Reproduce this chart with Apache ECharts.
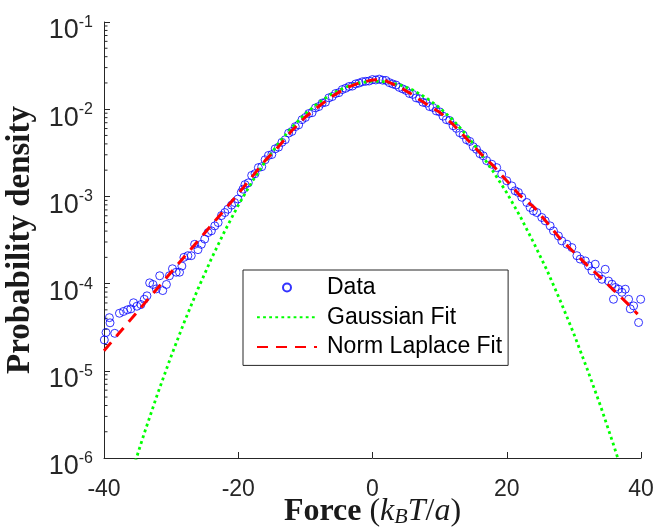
<!DOCTYPE html>
<html><head><meta charset="utf-8">
<script src="https://cdn.jsdelivr.net/npm/echarts@6/dist/echarts.min.js"></script>
<style>html,body{margin:0;padding:0;background:#fff}#c{width:655px;height:529px}</style>
</head><body><div id="c"></div>
<script>
// ---- data ----
const xTicks = [-40, -20, 0, 20, 40];
const yDecades = [-6, -5, -4, -3, -2, -1];
const minorMultipliers = [2, 3, 4, 5, 6, 7, 8, 9];

const dataX = [
 -39.95,-39.7,-39.2,-39.1,-38.4,-37.7,-37.1,-36.5,-36.0,-35.6,-35.1,-34.5,-34.0,-33.6,-33.2,-32.7,-32.2,-31.7,-31.25,-30.7,
 -30.25,-29.8,-29.25,-28.75,-28.4,-28.1,-27.5,-27.0,-26.5,-26.0,-25.5,-25.0,-24.5,-24.0,-23.5,-23.0,-22.5,-22.0,-21.55,-21.0,
 -20.55,-20.05,-19.55,-19.3,
 -19,-18.5,-18,-17.5,-17,-16.5,-16,-15.5,-15,-14.5,-14,-13.5,-13,-12.5,-12,-11.5,-11,-10.5,-10,-9.5,-9,-8.5,-8,-7.5,-7,-6.5,-6,-5.5,-5,-4.5,-4,-3.5,-3,-2.5,-2,-1.5,-1,-0.5,
 0,0.5,1,1.5,2,2.5,3,3.5,4,4.5,5,5.5,6,6.5,7,7.5,8,8.5,9,9.5,10,10.5,11,11.5,12,12.5,13,13.5,14,14.5,15,15.5,16,16.5,17,
 17.76,18.5,19.25,20.0,20.75,21.24,21.73,22.24,22.99,23.48,23.97,24.48,25.22,25.72,26.46,26.96,27.7,28.2,28.96,29.7,
 30.45,30.94,31.7,32.18,32.69,33.18,33.67,34.18,34.67,35.16,35.67,35.9,36.16,36.66,37.16,37.66,38.15,38.4,38.9,39.64,39.95
];
const dataY = [
 2.26e-5,2.75e-5,4.07e-5,3.55e-5,2.69e-5,4.57e-5,4.79e-5,5.01e-5,5.13e-5,6.03e-5,5.50e-5,5.75e-5,6.61e-5,7.24e-5,1.02e-4,9.77e-5,8.71e-5,1.23e-4,8.32e-5,9.77e-5,
 1.23e-4,1.48e-4,1.35e-4,1.35e-4,1.59e-4,2.00e-4,2.09e-4,2.09e-4,2.82e-4,2.45e-4,2.82e-4,3.24e-4,3.85e-4,4.03e-4,4.59e-4,5.01e-4,6.03e-4,6.53e-4,7.13e-4,7.94e-4,
 8.51e-4,9.33e-4,1.11e-3,1.21e-3,
 1.365e-3,1.43e-3,1.74e-3,1.82e-3,2.14e-3,2.19e-3,2.63e-3,2.95e-3,3.02e-3,3.51e-3,3.67e-3,4.17e-3,4.47e-3,5.31e-3,5.56e-3,6.31e-3,6.61e-3,7.59e-3,8.04e-3,8.91e-3,9.12e-3,1.035e-2,1.072e-2,1.175e-2,1.202e-2,1.349e-2,1.396e-2,1.514e-2,1.549e-2,1.679e-2,1.738e-2,1.82e-2,1.841e-2,1.95e-2,1.995e-2,2.065e-2,2.089e-2,2.104e-2,
 2.188e-2,2.163e-2,2.213e-2,2.153e-2,2.138e-2,2.018e-2,1.95e-2,1.892e-2,1.778e-2,1.71e-2,1.641e-2,1.514e-2,1.479e-2,1.349e-2,1.318e-2,1.202e-2,1.175e-2,1.072e-2,1.047e-2,9.55e-3,9.33e-3,8.32e-3,7.59e-3,7.41e-3,6.46e-3,6.03e-3,5.37e-3,5.07e-3,4.47e-3,4.27e-3,3.72e-3,3.47e-3,3.09e-3,2.92e-3,2.57e-3,
 2.34e-3,2.14e-3,1.80e-3,1.51e-3,1.32e-3,1.16e-3,1.11e-3,9.77e-4,8.51e-4,7.46e-4,6.82e-4,6.53e-4,5.73e-4,5.25e-4,4.59e-4,4.02e-4,3.52e-4,3.09e-4,2.83e-4,2.59e-4,
 2.09e-4,1.91e-4,1.82e-4,1.60e-4,1.40e-4,1.67e-4,1.23e-4,1.12e-4,1.46e-4,1.07e-4,9.84e-5,6.61e-5,9.02e-5,8.63e-5,7.94e-5,8.63e-5,6.61e-5,5.13e-5,5.55e-5,3.58e-5,6.61e-5
];

const gaussX = [-40,-38,-36,-34,-32,-30,-28,-26,-24,-22,-20,-18,-16,-14,-12,-10,-8,-6,-4,-2,0,2,4,6,8,10,12,14,16,18,20,22,24,26,28,30,32,34,36,38,40];
const gaussY = [5.7e-8,1.96e-7,6.3e-7,1.92e-6,5.5e-6,1.47e-5,3.69e-5,8.7e-5,1.93e-4,4.02e-4,7.9e-4,1.45e-3,2.5e-3,4.06e-3,6.2e-3,8.87e-3,1.195e-2,1.51e-2,1.79e-2,2.0e-2,2.1e-2,2.06e-2,1.91e-2,1.66e-2,1.35e-2,1.04e-2,7.5e-3,5.06e-3,3.21e-3,1.92e-3,1.1e-3,5.9e-4,2.95e-4,1.42e-4,6.3e-5,2.65e-5,1.04e-5,3.9e-6,1.35e-6,4.4e-7,1.3e-7];

const laplaceX = [-40,-38,-36,-34,-32,-30,-28,-26,-24,-22,-20,-18,-16,-14,-12,-10,-8,-6,-4,-2,0,1,2,4,6,8,10,12,14,16,18,20,22,24,26,28,30,32,34,36,38,39.5];
const laplaceY = [1.70e-5,2.57e-5,3.89e-5,5.89e-5,8.91e-5,1.35e-4,2.04e-4,3.09e-4,4.68e-4,7.08e-4,1.07e-3,1.66e-3,2.57e-3,3.72e-3,5.69e-3,8.13e-3,1.08e-2,1.41e-2,1.74e-2,2.00e-2,2.16e-2,2.19e-2,2.11e-2,1.80e-2,1.46e-2,1.15e-2,9.23e-3,6.68e-3,4.62e-3,3.16e-3,2.24e-3,1.51e-3,1.02e-3,7.59e-4,5.01e-4,3.24e-4,2.29e-4,1.62e-4,1.17e-4,8.32e-5,5.89e-5,4.47e-5];

const seriesNames = ['Data', 'Gaussian Fit', 'Norm Laplace Fit'];

// ---- build ----
const zip = (a, b) => a.map((v, i) => [v, b[i]]);
const minorTicks = [];
yDecades.slice(0, -1).forEach(d => minorMultipliers.forEach(m => minorTicks.push([xTicks[0], m * Math.pow(10, d)])));

const AX = '#262626';
const chart = echarts.init(document.getElementById('c'), null, {renderer: 'canvas'});
chart.setOption({
  animation: false,
  backgroundColor: '#fff',
  grid: {left: 104, right: 14, top: 22, bottom: 71, containLabel: false, outerBoundsMode: 'none'},
  xAxis: {
    type: 'value', min: xTicks[0], max: xTicks[xTicks.length - 1], interval: 20,
    axisLine: {onZero: false, lineStyle: {color: AX, width: 1}},
    axisTick: {inside: true, length: 6, lineStyle: {color: AX}},
    splitLine: {show: false},
    axisLabel: {color: AX, fontSize: 23, fontFamily: 'Liberation Sans', margin: 20},
    name: '{b|Force }{m|(}{i|k}{sub|B}{i|T}{m|/}{i|a}{m|)}',
    nameLocation: 'middle', nameGap: 38, nameMoveOverlap: false,
    nameTextStyle: {
      rich: {
        b: {fontFamily: 'Liberation Serif', fontWeight: 'bold', fontSize: 32, color: '#1a1a1a'},
        m: {fontFamily: 'Liberation Serif', fontSize: 32, color: '#1a1a1a'},
        i: {fontFamily: 'Liberation Serif', fontStyle: 'italic', fontSize: 32, color: '#1a1a1a'},
        sub: {fontFamily: 'Liberation Serif', fontStyle: 'italic', fontSize: 22, color: '#1a1a1a', verticalAlign: 'bottom', padding: [10, 0, 0, 0]}
      }
    }
  },
  yAxis: {
    type: 'log', logBase: 10, min: Math.pow(10, yDecades[0]), max: Math.pow(10, yDecades[yDecades.length - 1]),
    axisLine: {onZero: false, lineStyle: {color: AX, width: 1}},
    axisTick: {inside: true, length: 6, lineStyle: {color: AX}},
    splitLine: {show: false},
    minorTick: {show: false},
    axisLabel: {
      margin: 11,
      padding: [18, 0, 0, 0],
      formatter: v => '{b|10}{s|' + Math.round(Math.log10(v)) + '}',
      rich: {
        b: {fontSize: 27, lineHeight: 27, fontFamily: 'Liberation Sans', color: AX, verticalAlign: 'bottom', padding: [20, 0, 0, 0]},
        s: {fontSize: 16, lineHeight: 16, fontFamily: 'Liberation Sans', color: AX, verticalAlign: 'bottom', padding: [0, 0, 14, 0]}
      }
    },
    name: 'Probability density',
    nameLocation: 'middle', nameGap: 67, nameMoveOverlap: false,
    nameTextStyle: {fontFamily: 'Liberation Serif', fontWeight: 'bold', fontSize: 33, color: '#1a1a1a'}
  },
  legend: {
    data: [
      {name: seriesNames[0]},
      {name: seriesNames[1], icon: 'inherit', itemStyle: {opacity: 0}},
      {name: seriesNames[2], icon: 'inherit', itemStyle: {opacity: 0}}
    ],
    orient: 'vertical', left: 243, top: 270,
    backgroundColor: '#fff', borderColor: AX, borderWidth: 1, borderRadius: 0,
    padding: [6, 6, 7, 13],
    itemWidth: 60, itemHeight: 8, itemGap: 6.7,
    textStyle: {fontFamily: 'Liberation Sans', fontSize: 23, color: '#000', lineHeight: 22, padding: [0, 0, 0, 5]}
  },
  series: [
    {
      name: seriesNames[0], type: 'scatter', data: zip(dataX, dataY),
      symbol: 'circle', symbolSize: 8,
      itemStyle: {color: 'rgba(0,0,0,0)', borderColor: '#0000ff', borderWidth: 1}
    },
    {
      name: seriesNames[1], type: 'line', data: zip(gaussX, gaussY),
      showSymbol: false, symbol: 'none', clip: true,
      itemStyle: {color: '#00ff00'},
      lineStyle: {color: '#00ff00', width: 2.8, type: [2.8, 3.3], cap: 'butt'}
    },
    {
      name: seriesNames[2], type: 'line', data: zip(laplaceX, laplaceY),
      showSymbol: false, symbol: 'none', clip: true,
      itemStyle: {color: '#ff0000'},
      lineStyle: {color: '#ff0000', width: 3, type: [11, 8], cap: 'butt'}
    },
    {
      name: 'minorTicks', type: 'custom', data: minorTicks, silent: true,
      renderItem: (params, api) => {
        const p = api.coord([api.value(0), api.value(1)]);
        return {type: 'line', shape: {x1: p[0], y1: p[1], x2: p[0] + 3.5, y2: p[1]}, style: {stroke: AX, lineWidth: 1}};
      }
    }
  ]
});
</script></body></html>
